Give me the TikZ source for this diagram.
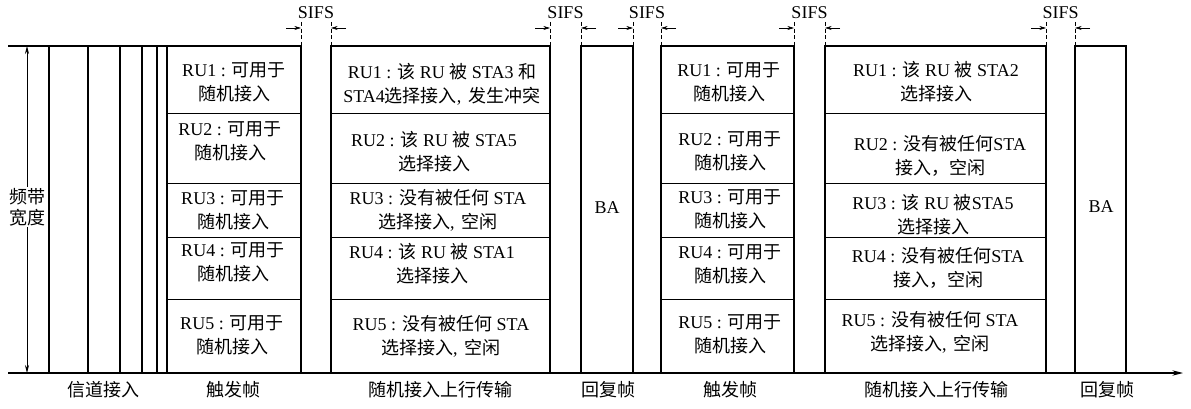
\documentclass[tikz,border=0pt]{standalone}
\usepackage{fontspec}
\setmainfont{Liberation Serif}
\newfontfamily\cnfont{Noto Sans CJK SC}
\newcommand\cn[1]{{\cnfont #1}}
\newcommand\cm{,\hspace{0.4em}}
\usetikzlibrary{arrows.meta}
\newcommand\rubox[2]{\draw[frame] (#1,373) -- (#1,46) -- (#2,46) -- (#2,373);}
\newcommand\rudiv[2]{\foreach \yy in {113,183,237,299} \draw[divline] (#1,\yy) -- (#2,\yy);}
\newcommand\sifs[3]{%
  \draw[sifsdash] (#1,22) -- (#1,46);
  \draw[sifsdash] (#2,22) -- (#2,46);
  \coordinate (#3a) at (#1-15,28); \coordinate (#3b) at (#1,28);
  \coordinate (#3c) at (#2+15,28); \coordinate (#3d) at (#2,28);
  \draw[sifsarrow] (#3a) -- (#3b);
  \draw[sifsarrow] (#3c) -- (#3d);
  \node[lbl] (#3l) at ({(#1+#2)/2},13) {SIFS};}
\begin{document}
\begin{tikzpicture}[x=0.75pt,y=-0.75pt,
  frame/.style={line width=0.9pt},
  divline/.style={line width=0.7pt},
  rutext/.style={align=center,font=\fontsize{13.5}{18}\selectfont,inner sep=0pt},
  lbl/.style={font=\fontsize{13.5}{16}\selectfont,inner sep=0pt},
  sifsdash/.style={line width=0.5pt,dash pattern=on 3pt off 2pt},
  sifsarrow/.style={line width=0.5pt,-{Stealth[length=5pt,width=3pt]}}]
\useasboundingbox (0,0) rectangle (1191,409);
% channel access
\draw[frame] (8,46) -- (301,46);
\foreach \xx in {49,88,120,142,157} \draw[frame] (\xx,46) -- (\xx,373);
\draw[frame] (167,46) -- (167,373);
\draw[frame] (301,46) -- (301,373);
\rudiv{167}{301}
% boxes
\rubox{331}{550} \rudiv{331}{550}
\rubox{581}{633}
\rubox{661}{794} \rudiv{661}{794}
\rubox{825}{1046} \rudiv{825}{1046}
\rubox{1075}{1126}
% axis
\coordinate (ax0) at (8,373); \coordinate (ax1) at (1183,373);
\draw[line width=1pt,-{Stealth[length=8pt,width=4pt]}] (ax0) -- (ax1);
% bandwidth arrow
\coordinate (bw0) at (27,46); \coordinate (bw1) at (27,373);
\draw[line width=0.6pt,{Stealth[length=6pt,width=3pt]}-{Stealth[length=6pt,width=3pt]}] (bw0) -- (bw1);
\node[rutext,fill=white,inner sep=1pt,font=\fontsize{13.5}{16}\selectfont] (bw) at (27,207) {\cn{频带}\\\cn{宽度}};
% SIFS markers
\sifs{301}{331}{s1}
\sifs{550}{581}{s2}
\sifs{633}{661}{s3}
\sifs{794}{825}{s4}
\sifs{1046}{1075}{s5}
% trigger frame 1
\node[rutext] (a1) at (234,82) {RU1 : \cn{可用于}\\\cn{随机接入}};
\node[rutext] (a2) at (230,141) {RU2 : \cn{可用于}\\\cn{随机接入}};
\node[rutext] (a3) at (233,210) {RU3 : \cn{可用于}\\\cn{随机接入}};
\node[rutext] (a4) at (233,262) {RU4 : \cn{可用于}\\\cn{随机接入}};
\node[rutext] (a5) at (232,335) {RU5 : \cn{可用于}\\\cn{随机接入}};
% uplink 1
\node[rutext] (b1) at (442,84) {RU1 : \cn{该} RU \cn{被} STA3 \cn{和}\\STA4\cn{选择接入}\cm\cn{发生冲突}};
\node[rutext] (b2) at (434,152) {RU2 : \cn{该} RU \cn{被} STA5\\\cn{选择接入}};
\node[rutext] (b3) at (438,210) {RU3 : \cn{没有被任何} STA\\\cn{选择接入}\cm\cn{空闲}};
\node[rutext] (b4) at (432,264) {RU4 : \cn{该} RU \cn{被} STA1\\\cn{选择接入}};
\node[rutext] (b5) at (441,336) {RU5 : \cn{没有被任何} STA\\\cn{选择接入}\cm\cn{空闲}};
% BA 1
\node[rutext] (ba1) at (607,208) {BA};
% trigger frame 2
\node[rutext] (c1) at (729,82) {RU1 : \cn{可用于}\\\cn{随机接入}};
\node[rutext] (c2) at (730,151) {RU2 : \cn{可用于}\\\cn{随机接入}};
\node[rutext] (c3) at (730,209) {RU3 : \cn{可用于}\\\cn{随机接入}};
\node[rutext] (c4) at (730,264) {RU4 : \cn{可用于}\\\cn{随机接入}};
\node[rutext] (c5) at (730,334) {RU5 : \cn{可用于}\\\cn{随机接入}};
% uplink 2
\node[rutext] (d1) at (936,82) {RU1 : \cn{该} RU \cn{被} STA2\\\cn{选择接入}};
\node[rutext] (d2) at (940,156) {RU2 : \cn{没有被任何}STA\\\cn{接入，空闲}};
\node[rutext] (d3) at (933,215) {RU3 : \cn{该} RU \cn{被}STA5\\\cn{选择接入}};
\node[rutext] (d4) at (938,268) {RU4 : \cn{没有被任何}STA\\\cn{接入，空闲}};
\node[rutext] (d5) at (930,332) {RU5 : \cn{没有被任何} STA\\\cn{选择接入}\cm\cn{空闲}};
% BA 2
\node[rutext] (ba2) at (1101,207) {BA};
% bottom labels
\node[lbl] (l1) at (103,390) {\cn{信道接入}};
\node[lbl] (l2) at (233,390) {\cn{触发帧}};
\node[lbl] (l3) at (440,390) {\cn{随机接入上行传输}};
\node[lbl] (l4) at (608,390) {\cn{回复帧}};
\node[lbl] (l5) at (730,390) {\cn{触发帧}};
\node[lbl] (l6) at (936,390) {\cn{随机接入上行传输}};
\node[lbl] (l7) at (1107,390) {\cn{回复帧}};
\end{tikzpicture}
\end{document}
